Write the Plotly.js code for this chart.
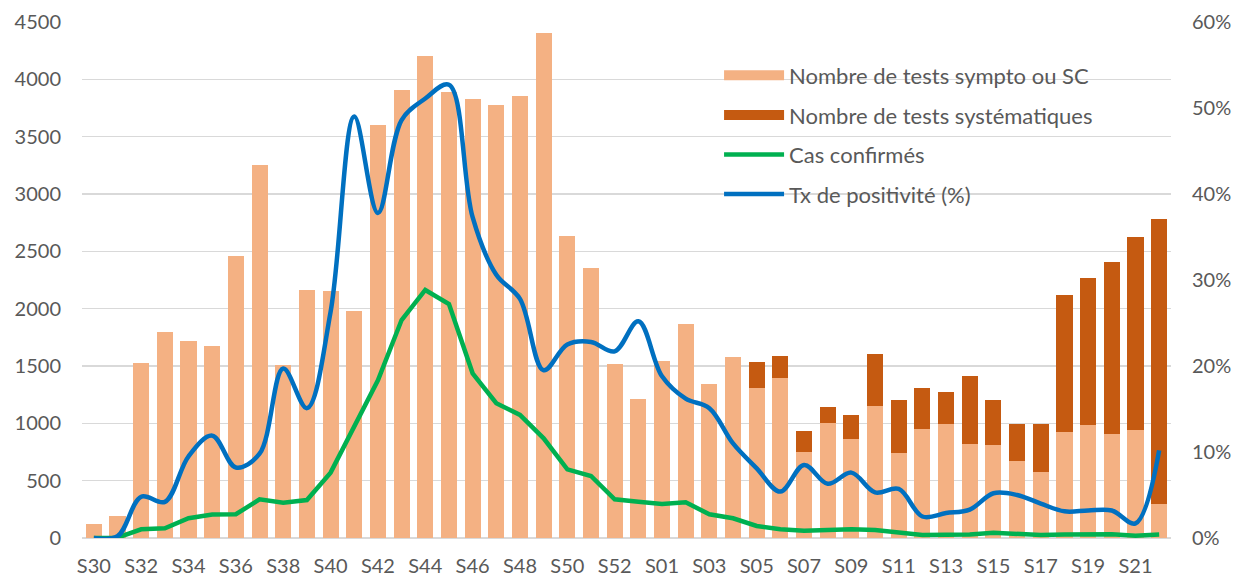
<!DOCTYPE html>
<html>
<head>
<meta charset="utf-8">
<script src="https://cdn.plot.ly/plotly-3.0.1.min.js"></script>
<style>html,body{margin:0;padding:0;background:#fff;}#chart{width:1244px;height:578px;}</style>
</head>
<body>
<div id="chart"></div>
<script>
const weeks = ["S30","S31","S32","S33","S34","S35","S36","S37","S38","S39","S40","S41","S42","S43","S44","S45","S46","S47","S48","S49","S50","S51","S52","S53",
  "S01","S02","S03","S04","S05","S06","S07","S08","S09","S10","S11","S12","S13","S14","S15","S16","S17","S18","S19","S20","S21","S22"];
const tickLabels = ["S30","S32","S34","S36","S38","S40","S42","S44","S46","S48","S50","S52","S01","S03","S05","S07","S09","S11","S13","S15","S17","S19","S21"];

const testsSympto = [118,195,1530,1800,1715,1672,2460,3255,1505,2165,2157,1979,3601,3906,4203,3892,3828,3773,3854,4404,2633,2352,1517,1209,
  1543,1866,1340,1578,1308,1395,750,1003,863,1151,741,950,994,823,814,674,573,927,983,904,942,296];
const testsSystematiques = [0,0,0,0,0,0,0,0,0,0,0,0,0,0,0,0,0,0,0,0,0,0,0,0,
  0,0,0,0,227,195,186,137,207,453,459,358,279,593,389,320,418,1189,1281,1503,1685,2486];
const casConfirmes = [0,3,76,85,172,205,207,337,308,331,570,970,1375,1901,2163,2040,1436,1175,1073,869,599,541,337,316,
  296,311,207,172,105,76,64,70,76,70,46,26,28,30,46,35,26,30,30,33,20,30];
const txPositivite = [0,0.2,4.8,4.2,9.5,11.9,8.2,9.8,19.7,15.1,26.3,49.0,37.8,48.6,51.1,52.7,37.3,30.6,27.8,19.5,22.5,22.8,21.7,25.2,
  18.8,16.2,15.1,11.0,8.1,5.4,8.5,6.3,7.6,5.3,5.7,2.5,2.9,3.3,5.2,5.0,4.0,3.1,3.2,3.2,1.7,10.2];

const textColor = '#595959';
const fam = 'Lato, "Open Sans", sans-serif';
const lightColor = '#F4B183', darkColor = '#C55A11';

const traces = [
  {type:'bar', name:'Nombre de tests sympto ou SC', x:weeks, y:testsSympto,
   marker:{color:lightColor}, legendgroup:'a', showlegend:false},
  {type:'bar', name:'Nombre de tests systématiques', x:weeks, y:testsSystematiques,
   marker:{color:darkColor}, legendgroup:'b', showlegend:false},
  // legend swatches for the bar series (wide rectangles as in the original)
  {type:'scatter', mode:'lines', name:'Nombre de tests sympto ou SC', x:[null], y:[null],
   line:{color:lightColor, width:14}, legendgroup:'a', hoverinfo:'skip'},
  {type:'scatter', mode:'lines', name:'Nombre de tests systématiques', x:[null], y:[null],
   line:{color:darkColor, width:14}, legendgroup:'b', hoverinfo:'skip'},
  {type:'scatter', mode:'lines', name:'Cas confirmés', x:weeks, y:casConfirmes,
   line:{color:'#00B050', width:4.5, shape:'linear'}, legendgroup:'c'},
  {type:'scatter', mode:'lines', name:'Tx de positivité (%)', x:weeks, y:txPositivite, yaxis:'y2',
   line:{color:'#0070C0', width:4.5, shape:'spline', smoothing:1}, legendgroup:'d'}
];

const layout = {
  width:1244, height:578,
  margin:{l:82, r:73, t:22, b:40},
  paper_bgcolor:'#fff', plot_bgcolor:'#fff',
  font:{family:fam, size:20, color:textColor},
  barmode:'stack',
  bargap:0.32,
  showlegend:true,
  legend:{x:0.585, y:0.937, xanchor:'left', yanchor:'top', traceorder:'grouped', tracegroupgap:8,
          font:{family:fam, size:22, color:textColor}, bgcolor:'rgba(0,0,0,0)', itemwidth:60},
  xaxis:{type:'category', tickmode:'array', tickvals:tickLabels, ticktext:tickLabels,
         showgrid:false, showline:false, zeroline:false, ticks:'', ticklabelstandoff:14,
         tickfont:{family:fam, size:20, color:textColor}, range:[-0.5,45.5]},
  yaxis:{range:[0,4500], dtick:500, showgrid:true, gridcolor:'#D9D9D9', gridwidth:1.5,
         zeroline:true, zerolinecolor:'#D9D9D9', zerolinewidth:1.5, showline:false, ticks:'',
         ticklabelstandoff:20, tickfont:{family:fam, size:20, color:textColor}},
  yaxis2:{overlaying:'y', side:'right', range:[0,60], dtick:10, ticksuffix:'%', showgrid:false,
          zeroline:false, showline:false, ticks:'', ticklabelstandoff:20,
          tickfont:{family:fam, size:20, color:textColor}}
};

Plotly.newPlot('chart', traces, layout, {displayModeBar:false, staticPlot:true});
</script>
</body>
</html>
